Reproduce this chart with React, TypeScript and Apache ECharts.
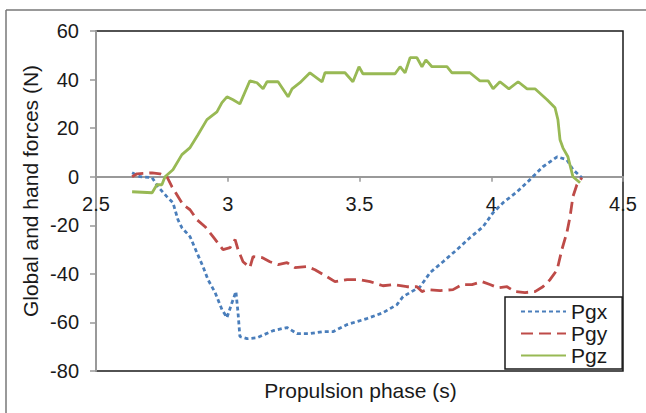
import React, { useEffect, useRef } from "react";
import * as echarts from "echarts";

const xTicks = { min: 2.5, max: 4.5, interval: 0.5 };
const yTicks = { min: -80, max: 60, interval: 20 };

const seriesNames = ["Pgx", "Pgy", "Pgz"];

const pgxT = [2.637, 2.667, 2.713, 2.735, 2.769, 2.792, 2.811, 2.826, 2.857, 2.883, 2.906, 2.925, 2.952, 2.978, 2.997, 3.016, 3.031, 3.039, 3.046, 3.073, 3.111, 3.172, 3.225, 3.263, 3.312, 3.361, 3.399, 3.453, 3.528, 3.589, 3.642, 3.665, 3.692, 3.73, 3.768, 3.817, 3.87, 3.919, 3.969, 4.007, 4.045, 4.098, 4.147, 4.196, 4.25, 4.287, 4.31, 4.344];
const pgxV = [1.6, 0, -0.4, -4.1, -8.2, -10.7, -17.7, -21.0, -24.7, -31.3, -37.0, -42.4, -47.7, -54.7, -58.0, -51.9, -47.3, -56.0, -65.8, -66.7, -66.3, -63.4, -62.1, -64.6, -64.6, -63.8, -63.8, -60.9, -58.4, -56.0, -52.7, -49.4, -47.7, -45.3, -39.5, -35.0, -30.0, -25.1, -20.6, -14.8, -10.7, -6.2, -1.2, 4.1, 8.2, 7.0, 2.9, -0.4];

const pgyT = [2.637, 2.656, 2.713, 2.743, 2.769, 2.788, 2.807, 2.83, 2.857, 2.883, 2.914, 2.944, 2.982, 3.009, 3.028, 3.039, 3.058, 3.084, 3.096, 3.13, 3.16, 3.191, 3.225, 3.255, 3.301, 3.331, 3.377, 3.407, 3.453, 3.502, 3.54, 3.589, 3.627, 3.68, 3.718, 3.737, 3.756, 3.806, 3.855, 3.889, 3.927, 3.965, 3.995, 4.026, 4.06, 4.09, 4.128, 4.166, 4.196, 4.223, 4.25, 4.268, 4.287, 4.299, 4.31, 4.325, 4.344];
const pgyV = [0, 1.2, 1.6, 1.2, 0, -4.1, -7.4, -11.5, -13.6, -17.7, -20.6, -24.7, -30.0, -29.2, -25.9, -30.0, -35.0, -37.4, -32.9, -33.3, -35.0, -36.2, -35.4, -37.4, -37.0, -38.3, -41.2, -43.2, -42.4, -42.4, -43.2, -44.9, -44.4, -45.3, -45.3, -47.3, -46.5, -46.9, -46.5, -44.4, -44.4, -43.2, -44.4, -45.7, -45.3, -47.3, -47.7, -47.3, -45.3, -42.4, -38.3, -30.0, -23.0, -16.5, -8.2, -3.3, -0.4];

const pgzT = [2.637, 2.713, 2.731, 2.75, 2.762, 2.792, 2.826, 2.857, 2.887, 2.921, 2.959, 2.978, 2.997, 3.02, 3.046, 3.084, 3.111, 3.134, 3.149, 3.191, 3.229, 3.244, 3.274, 3.312, 3.358, 3.369, 3.445, 3.475, 3.498, 3.513, 3.635, 3.654, 3.673, 3.692, 3.718, 3.737, 3.752, 3.775, 3.832, 3.851, 3.919, 3.957, 3.988, 4.007, 4.033, 4.067, 4.102, 4.136, 4.166, 4.212, 4.242, 4.253, 4.261, 4.272, 4.291, 4.31, 4.337];
const pgzV = [-6.2, -6.6, -3.3, -3.3, 0, 2.9, 9.1, 12.0, 17.3, 23.5, 26.7, 30.5, 32.9, 31.7, 30.0, 39.5, 38.7, 36.2, 39.1, 39.1, 32.9, 36.2, 38.7, 42.8, 39.1, 42.8, 42.8, 39.1, 45.3, 42.4, 42.4, 45.3, 42.8, 49.0, 49.0, 45.3, 48.1, 45.3, 45.3, 42.8, 42.8, 39.5, 39.5, 36.2, 39.1, 36.2, 39.1, 36.2, 36.2, 31.7, 28.4, 23.5, 15.2, 11.9, 8.2, 0, -2.5];

const xAxisTitle = "Propulsion phase (s)";
const yAxisTitle = "Global and hand forces (N)";

const zip = (t: number[], v: number[]) => t.map((x, i) => [x, v[i]]);

export default function App() {
  const ref = useRef<HTMLDivElement>(null);
  useEffect(() => {
    if (!ref.current) return;
    const chart = echarts.init(ref.current, null, { renderer: "svg" });
    const font = "Liberation Sans, Arial, sans-serif";
    const gridTop = 31;
    const gridBottomPx = 371;
    const zeroY = gridTop + ((gridBottomPx - gridTop) * yTicks.max) / (yTicks.max - yTicks.min);
    chart.setOption({
      animation: false,
      backgroundColor: "#ffffff",
      textStyle: { fontFamily: font },
      grid: {
        left: 96,
        top: gridTop,
        right: 23,
        bottom: 413 - gridBottomPx,
        show: true,
        borderColor: "#1a1a1a",
        borderWidth: 1.5,
        backgroundColor: "transparent",
      },
      legend: {
        orient: "vertical",
        left: 505,
        top: 297,
        padding: [4, 15, 3, 15],
        itemWidth: 45,
        itemHeight: 14,
        itemGap: 1,
        backgroundColor: "#ffffff",
        borderColor: "#1a1a1a",
        borderWidth: 1.5,
        borderRadius: 0,
        itemStyle: { opacity: 0 },
        textStyle: { fontSize: 21, color: "#1a1a1a", fontFamily: font },
        data: seriesNames,
      },
      xAxis: {
        type: "value",
        min: xTicks.min,
        max: xTicks.max,
        interval: xTicks.interval,
        offset: zeroY - gridBottomPx,
        axisLine: { onZero: false, lineStyle: { color: "#999999", width: 2 } },
        axisTick: { show: true, length: 5, lineStyle: { color: "#999999", width: 1.5 } },
        axisLabel: {
          fontSize: 20,
          color: "#1a1a1a",
          margin: 17,
          showMinLabel: true,
          showMaxLabel: true,
          formatter: (v: number) => String(v),
        },
        splitLine: { show: false },
      },
      yAxis: {
        type: "value",
        min: yTicks.min,
        max: yTicks.max,
        interval: yTicks.interval,
        axisLine: { show: true, lineStyle: { color: "#999999", width: 2 } },
        axisTick: { show: true, length: 6, lineStyle: { color: "#999999", width: 1.5 } },
        axisLabel: { fontSize: 20, color: "#1a1a1a", margin: 17 },
        splitLine: { show: false },
      },
      graphic: [
        {
          type: "line",
          shape: { x1: 6, y1: 10, x2: 646, y2: 10 },
          style: { stroke: "#777777", lineWidth: 1.5 },
        },
        {
          type: "line",
          shape: { x1: 6, y1: 10, x2: 6, y2: 413 },
          style: { stroke: "#777777", lineWidth: 1.5 },
        },
        {
          type: "text",
          x: 360.5,
          y: 390,
          style: {
            text: xAxisTitle,
            fontSize: 21,
            fill: "#1a1a1a",
            fontFamily: font,
            align: "center",
            verticalAlign: "middle",
          },
        },
        {
          type: "text",
          x: 30.5,
          y: 191,
          rotation: Math.PI / 2,
          style: {
            text: yAxisTitle,
            fontSize: 21,
            fill: "#1a1a1a",
            fontFamily: font,
            align: "center",
            verticalAlign: "middle",
          },
        },
      ],
      series: [
        {
          name: seriesNames[0],
          type: "line",
          data: zip(pgxT, pgxV),
          showSymbol: false,
          symbol: "none",
          lineStyle: { color: "#4a7ebb", width: 2.8, type: [4, 3] },
          itemStyle: { color: "#4a7ebb" },
          z: 3,
        },
        {
          name: seriesNames[1],
          type: "line",
          data: zip(pgyT, pgyV),
          showSymbol: false,
          symbol: "none",
          lineStyle: { color: "#be4b48", width: 2.8, type: [12, 6] },
          itemStyle: { color: "#be4b48" },
          z: 3,
        },
        {
          name: seriesNames[2],
          type: "line",
          data: zip(pgzT, pgzV),
          showSymbol: false,
          symbol: "none",
          lineStyle: { color: "#98b954", width: 2.8, type: "solid" },
          itemStyle: { color: "#98b954" },
          z: 3,
        },
      ],
    });
    return () => chart.dispose();
  }, []);
  return (
    <div
      ref={ref}
      style={{ position: "fixed", left: 0, top: 0, width: 646, height: 413 }}
    />
  );
}
